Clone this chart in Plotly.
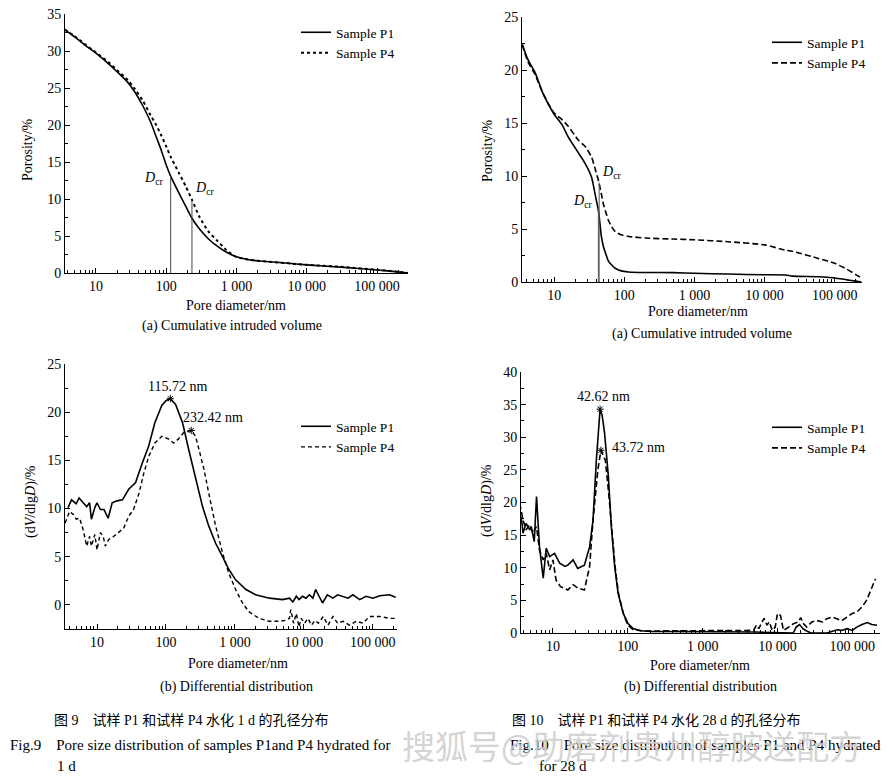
import math
import plotly.graph_objects as go

# ---------------- data ----------------
# Fig 9 (a) cumulative, 1 d
d9a = [3.6, 5, 7, 10, 15, 20, 27, 35, 47, 60, 72, 85, 100, 115.72, 150, 190, 232.42,
       300, 400, 520, 720, 1000, 1500, 2000, 5000, 10000, 30000, 100000, 200000, 280000]
p1_9a = [32.9, 31.9, 30.8, 29.7, 28.3, 27.2, 26.0, 24.6, 22.5, 20.4, 18.4, 16.6, 14.6, 13.1,
         10.9, 9.0, 7.4, 5.9, 4.6, 3.7, 2.8, 2.2, 1.8, 1.65, 1.35, 1.1, 0.8, 0.4, 0.15, 0.0]
p4_9a = [32.9, 32.0, 30.9, 29.8, 28.5, 27.4, 26.3, 25.0, 23.2, 21.3, 20.0, 18.6, 17.1, 15.7,
         13.6, 11.7, 9.9, 7.5, 5.6, 4.45, 3.1, 2.15, 1.8, 1.65, 1.35, 1.1, 0.85, 0.45, 0.15, 0.0]
dcr_9 = [115.72, 232.42]
dcr_9_h = [13.1, 9.9]

# Fig 10 (a) cumulative, 28 d
d10a = [3.5, 4.2, 5.3, 6.9, 9.8, 13, 15.8, 22, 27.5, 34, 39, 43, 47, 50, 56, 59, 66, 74, 90,
        115, 200, 500, 1000, 3000, 10000, 20000, 25000, 60000, 100000, 150000, 200000, 240000]
p1_10a = [22.4, 21.0, 19.8, 17.8, 15.9, 14.8, 13.7, 12.2, 11.2, 9.9, 8.0, 6.6, 4.3, 3.4, 2.4,
          2.0, 1.6, 1.3, 1.05, 0.95, 0.9, 0.88, 0.82, 0.75, 0.68, 0.66, 0.55, 0.5, 0.38, 0.2,
          0.08, 0.0]
p4_10a = [22.4, 20.8, 19.6, 17.8, 16.0, 15.3, 14.7, 13.4, 12.8, 11.8, 10.5, 9.5, 8.3, 7.4,
          6.3, 5.85, 5.2, 4.75, 4.45, 4.3, 4.15, 4.05, 3.98, 3.8, 3.5, 3.0, 2.9, 2.2, 1.76,
          1.2, 0.7, 0.4]
dcr_10 = [42.62, 43.72]
dcr_10_h = [7.0, 9.4]

# Fig 9 (b) differential, 1 d
d9b_p1 = [3.8, 4.27, 5.0, 5.5, 6.3, 7.1, 7.8, 8.3, 9.3, 10, 11.2, 12.6, 14.5, 16.6, 19.5,
          23.4, 28.8, 36.3, 44.7, 56.2, 69, 87, 100, 115.72, 138, 174, 214, 269, 339, 417,
          525, 661, 813, 1023, 1445, 1995, 3162, 4900, 6166, 6918, 7762, 8511, 9550, 10715,
          12023, 13490, 14791, 16596, 18621, 21878, 26303, 30903, 36308, 43652, 51286,
          64565, 79433, 100000, 125893, 173780, 213800]
v9b_p1 = [10.1, 10.9, 10.5, 11.1, 10.6, 10.2, 10.6, 8.9, 10.1, 10.6, 9.9, 9.9, 9.0, 10.6,
          10.8, 10.9, 12.0, 12.7, 14.6, 16.5, 18.9, 20.7, 21.2, 21.4, 20.8, 18.9, 16.1, 13.0,
          10.2, 8.2, 6.4, 5.0, 3.7, 2.6, 1.6, 1.05, 0.7, 0.55, 0.7, 0.3, 0.9, 0.55, 0.9, 0.7,
          1.05, 0.7, 1.6, 0.9, 0.2, 1.05, 0.7, 1.05, 0.9, 0.7, 1.05, 0.55, 0.9, 0.7, 0.95,
          1.05, 0.8]
d9b_p4 = [3.45, 4.0, 4.5, 5.0, 5.6, 6.3, 7.1, 7.8, 8.3, 9.3, 10, 11.2, 12.3, 13.2, 14.8,
          17.4, 20.4, 24.5, 28.8, 33.9, 40.7, 47.9, 56.2, 69, 87, 110, 129, 151, 182, 232.42,
          269, 302, 355, 417, 525, 661, 813, 1023, 1288, 1585, 2239, 3162, 4365, 5495, 6166,
          6457, 7079, 7762, 8511, 9120, 10233, 11482, 12882, 14454, 16218, 19055, 22387,
          26303, 30903, 37154, 45709, 57544, 72444, 89125, 125893, 173780, 213800]
v9b_p4 = [8.5, 9.7, 9.4, 8.9, 9.0, 7.8, 6.1, 7.1, 6.1, 7.3, 5.7, 7.5, 7.1, 6.1, 6.8, 7.1,
          7.5, 8.0, 9.2, 9.9, 11.6, 13.7, 15.4, 16.8, 17.5, 17.2, 16.8, 17.2, 17.9, 18.1,
          17.5, 16.1, 14.1, 11.6, 8.2, 5.4, 3.3, 1.6, 0.2, -0.7, -1.4, -1.7, -1.7, -1.6,
          -1.4, -0.5, -1.9, -0.9, -2.3, -1.4, -1.9, -1.4, -2.1, -1.6, -1.9, -1.2, -2.1, -1.2,
          -1.9, -1.7, -2.1, -1.7, -1.9, -1.2, -1.2, -1.4, -1.4]
peak9 = [115.72, 232.42]
peak9_v = [21.4, 18.1]

# Fig 10 (b) differential, 28 d
d10b_p1 = [3.77, 3.98, 4.37, 4.9, 5.13, 5.62, 6.03, 6.61, 7.41, 8.13, 9.04, 10.5, 12.3,
           14.5, 15.8, 18.6, 21.4, 26.3, 30.9, 34.3, 38, 40.5, 42.62, 45.5, 49, 55, 60.3,
           66.8, 74.1, 87, 100, 117, 151, 204, 1000, 3162, 5000, 16218, 17783, 19724, 21878,
           24547, 28184, 45709, 53703, 63096, 72444, 85114, 100000, 114815, 134896, 158489,
           181970, 213800]
v10b_p1 = [17.8, 15.3, 16.8, 15.8, 16.3, 14.0, 20.9, 13.2, 8.4, 13.0, 11.7, 12.2, 10.7,
           10.2, 10.4, 11.2, 9.9, 10.4, 13.2, 17.3, 26.5, 31.5, 34.3, 33.3, 30.6, 24.0, 16.3,
           10.2, 6.1, 3.0, 1.5, 0.7, 0.35, 0.25, 0.25, 0.2, 0.15, 0.0, 0.9, 1.3, 0.66, 0.3,
           0.0, 0.0, 0.3, 0.5, 0.4, 0.66, 0.4, 0.9, 1.3, 1.6, 1.3, 1.2]
d10b_p4 = [3.59, 3.98, 4.37, 4.9, 5.37, 6.03, 6.61, 7.41, 8.13, 9.04, 10, 11, 12.6, 15.8,
           18.6, 21.4, 26.3, 30.9, 34.3, 39.8, 43.72, 50.1, 55.6, 61.7, 67.6, 75, 87, 100,
           117, 158, 1000, 3162, 4786, 5248, 5623, 6607, 7244, 7762, 8511, 9333, 10000, 10965,
           12023, 14125, 16218, 19055, 20417, 22387, 24547, 28840, 33884, 39811, 45709,
           53703, 63096, 72444, 85114, 100000, 114815, 134896, 154882, 173780, 204174]
v10b_p4 = [19.9, 17.3, 15.8, 16.6, 15.3, 16.3, 12.7, 11.2, 12.2, 9.7, 11.2, 8.1, 7.1, 6.6,
           7.4, 6.9, 6.6, 10.2, 17.3, 25.0, 28.0, 26.5, 21.4, 15.8, 10.2, 6.1, 3.0, 1.2, 0.55,
           0.3, 0.3, 0.3, 0.4, 1.2, 0.66, 2.25, 1.2, 1.7, 0.4, 0.9, 3.0, 2.7, 0.4, 0.9, 1.4,
           1.7, 2.35, 1.4, 0.9, 1.7, 1.9, 1.7, 2.2, 2.45, 2.2, 1.9, 2.45, 3.0, 3.2, 4.0, 5.0,
           6.3, 8.3]
peak10 = [42.62, 43.72]
peak10_v = [34.3, 28.0]

x_tickvals = [10, 100, 1000, 10000, 100000]
x_ticktext = ["10", "100", "1 000", "10 000", "100 000"]

# ---------------- figure ----------------
OFF = 8                      # page body margin of the html page
W, H = 889 - OFF, 776 - OFF
SERIF = "Liberation Serif, Times New Roman, serif"
MIXED = "Liberation Serif, Noto Sans CJK SC, serif"


def px(v):
    return (v - OFF) / W


def py(v):
    return 1 - (v - OFF) / H


fig = go.Figure()

panels = {
    "1": ((65, 408), (14, 273), (0.56, 5.44), (0, 35)),
    "2": ((522, 862), (17, 282), (0.54, 5.39), (0, 25)),
    "3": ((65, 397), (364, 629), (0.536, 5.35), (-2.5, 25)),
    "4": ((521, 880), (372, 633), (0.573, 5.37), (0, 40)),
}

minor_x = [m * 10 ** k for k in range(0, 6) for m in range(2, 10)]

for k, (xd, yd, xr, yr) in panels.items():
    sx = "" if k == "1" else k
    fig.layout["xaxis" + sx] = dict(
        domain=[px(xd[0]), px(xd[1])], range=list(xr), type="log", automargin=False,
        ticklabeloverflow="allow",
        anchor="y" + sx, showline=True, linecolor="black", linewidth=1,
        ticks="inside", ticklen=5, tickcolor="black", showgrid=False, zeroline=False,
        tickmode="array", tickvals=x_tickvals, ticktext=x_ticktext,
        tickfont=dict(family=SERIF, size=14, color="black"),
        minor=dict(tickmode="array", tickvals=minor_x, ticks="inside", ticklen=3,
                   tickcolor="black", showgrid=False),
    )
    fig.layout["yaxis" + sx] = dict(
        domain=[py(yd[1]), py(yd[0])], range=list(yr), anchor="x" + sx, automargin=False,
        ticklabeloverflow="allow",
        showline=True, linecolor="black", linewidth=1, ticks="inside", ticklen=5,
        tickcolor="black", showgrid=False, zeroline=False, dtick=5, tick0=0,
        tickfont=dict(family=SERIF, size=14, color="black"),
        minor=dict(ticks="inside", ticklen=3, dtick=2.5, tick0=0, tickcolor="black",
                   showgrid=False),
    )

solid = dict(color="black", width=1.6)

# panel 1
fig.add_trace(go.Scatter(x=d9a, y=p1_9a, mode="lines", name="Sample P1",
                         line=dict(**solid, shape="spline", smoothing=0.6),
                         xaxis="x", yaxis="y", legend="legend"))
fig.add_trace(go.Scatter(x=d9a, y=p4_9a, mode="lines", name="Sample P4",
                         line=dict(color="black", width=2, dash="dot", shape="spline", smoothing=0.6),
                         xaxis="x", yaxis="y", legend="legend"))
for xv, hv in zip(dcr_9, dcr_9_h):
    fig.add_trace(go.Scatter(x=[xv, xv], y=[0, hv], mode="lines", showlegend=False,
                             line=dict(color="#444", width=1), xaxis="x", yaxis="y"))

# panel 2
fig.add_trace(go.Scatter(x=d10a, y=p1_10a, mode="lines", name="Sample P1",
                         line=dict(**solid, shape="spline", smoothing=0.6),
                         xaxis="x2", yaxis="y2", legend="legend2"))
fig.add_trace(go.Scatter(x=d10a, y=p4_10a, mode="lines", name="Sample P4",
                         line=dict(color="black", width=1.6, dash="6px,3px", shape="spline", smoothing=0.6),
                         xaxis="x2", yaxis="y2", legend="legend2"))
for xv, hv in zip(dcr_10, dcr_10_h):
    fig.add_trace(go.Scatter(x=[xv, xv], y=[0, hv], mode="lines", showlegend=False,
                             line=dict(color="#555", width=1), xaxis="x2", yaxis="y2"))

# panel 3
fig.add_trace(go.Scatter(x=d9b_p1, y=v9b_p1, mode="lines", name="Sample P1", line=solid,
                         xaxis="x3", yaxis="y3", legend="legend3"))
fig.add_trace(go.Scatter(x=d9b_p4, y=v9b_p4, mode="lines", name="Sample P4",
                         line=dict(color="black", width=1.4, dash="4px,3px"),
                         xaxis="x3", yaxis="y3", legend="legend3"))
fig.add_trace(go.Scatter(x=peak9, y=peak9_v, mode="markers", showlegend=False,
                         marker=dict(symbol="asterisk-open", size=6, color="black",
                                     line=dict(width=1, color="black")),
                         xaxis="x3", yaxis="y3"))

# panel 4
fig.add_trace(go.Scatter(x=d10b_p1, y=v10b_p1, mode="lines", name="Sample P1", line=solid,
                         xaxis="x4", yaxis="y4", legend="legend4"))
fig.add_trace(go.Scatter(x=d10b_p4, y=v10b_p4, mode="lines", name="Sample P4",
                         line=dict(color="black", width=1.6, dash="6px,3px"),
                         xaxis="x4", yaxis="y4", legend="legend4"))
fig.add_trace(go.Scatter(x=peak10, y=peak10_v, mode="markers", showlegend=False,
                         marker=dict(symbol="asterisk-open", size=6, color="black",
                                     line=dict(width=1, color="black")),
                         xaxis="x4", yaxis="y4"))

leg_common = dict(bgcolor="rgba(0,0,0,0)", borderwidth=0, xanchor="left", yanchor="top",
                  font=dict(family=SERIF, size=13.5, color="black"), tracegroupgap=0,
                  itemwidth=30)
fig.update_layout(
    legend=dict(x=px(296), y=py(17), **leg_common),
    legend2=dict(x=px(767), y=py(27), **leg_common),
    legend3=dict(x=px(296), y=py(411), **leg_common),
    legend4=dict(x=px(767), y=py(412), **leg_common),
)

ann = []


def text(xp, yp, s, size=14, angle=0, xanchor="center", family=SERIF):
    ann.append(dict(x=px(xp), y=py(yp), xref="paper", yref="paper", text=s, showarrow=False,
                    font=dict(family=family, size=size, color="black"), textangle=angle,
                    xanchor=xanchor, yanchor="middle"))


def dtext(ax, x, y, s, size=14):
    sx = "" if ax == "1" else ax
    ann.append(dict(x=math.log10(x), y=y, xref="x" + sx, yref="y" + sx, text=s,
                    showarrow=False, font=dict(family=SERIF, size=size, color="black"),
                    xanchor="center", yanchor="middle"))


# axis titles
text(27, 150, "Porosity/%", angle=-90)
text(487, 150, "Porosity/%", angle=-90)
text(31, 502, "(d<i>V</i>/dlg<i>D</i>)/%", angle=-90)
text(487, 500, "(d<i>V</i>/dlg<i>D</i>)/%", angle=-90)
text(236, 305, "Pore diameter/nm")
text(698, 312, "Pore diameter/nm")
text(238, 663, "Pore diameter/nm")
text(700, 665, "Pore diameter/nm")
# sub-captions
text(232, 326, "(a) Cumulative intruded volume")
text(702, 334, "(a) Cumulative intruded volume")
text(236, 687, "(b) Differential distribution")
text(700, 687, "(b) Differential distribution")

# D_cr labels
DCR = "<i>D</i><sub>cr</sub>"
dtext("1", 66, 12.8, DCR)
dtext("1", 355, 11.4, DCR)
dtext("2", 25, 7.6, DCR)
dtext("2", 66, 10.3, DCR)
# peak labels
dtext("3", 145, 22.7, "115.72 nm")
dtext("3", 480, 19.5, "232.42 nm")
dtext("4", 47, 36.3, "42.62 nm")
dtext("4", 138, 28.5, "43.72 nm")

# figure captions
text(52, 720, "图 9　试样 P1 和试样 P4 水化 1 d 的孔径分布", size=14, xanchor="left", family=MIXED)
text(8, 745, "Fig.9　Pore size distribution of samples P1and P4 hydrated for", size=15, xanchor="left", family=MIXED)
text(55, 766, "1 d", size=15, xanchor="left", family=MIXED)
text(510, 720, "图 10　试样 P1 和试样 P4 水化 28 d 的孔径分布", size=14, xanchor="left", family=MIXED)
text(508, 745, "Fig.10　Pore size distribution of samples P1 and P4 hydrated", size=15, xanchor="left", family=MIXED)
text(537, 766, "for 28 d", size=15, xanchor="left", family=MIXED)
# watermark
ann.append(dict(x=px(632), y=py(745), xref="paper", yref="paper",
                text="搜狐号@助磨剂贵州醇胺送配方", showarrow=False,
                font=dict(family="Noto Sans CJK SC", size=33, color="rgba(205,205,205,0.85)"),
                xanchor="center", yanchor="middle"))

fig.update_layout(
    annotations=ann,
    width=W, height=H, margin=dict(l=0, r=0, t=0, b=0, pad=0),
    paper_bgcolor="white", plot_bgcolor="white",
    font=dict(family=SERIF, size=14, color="black"),
)

fig.write_html("out.html")
